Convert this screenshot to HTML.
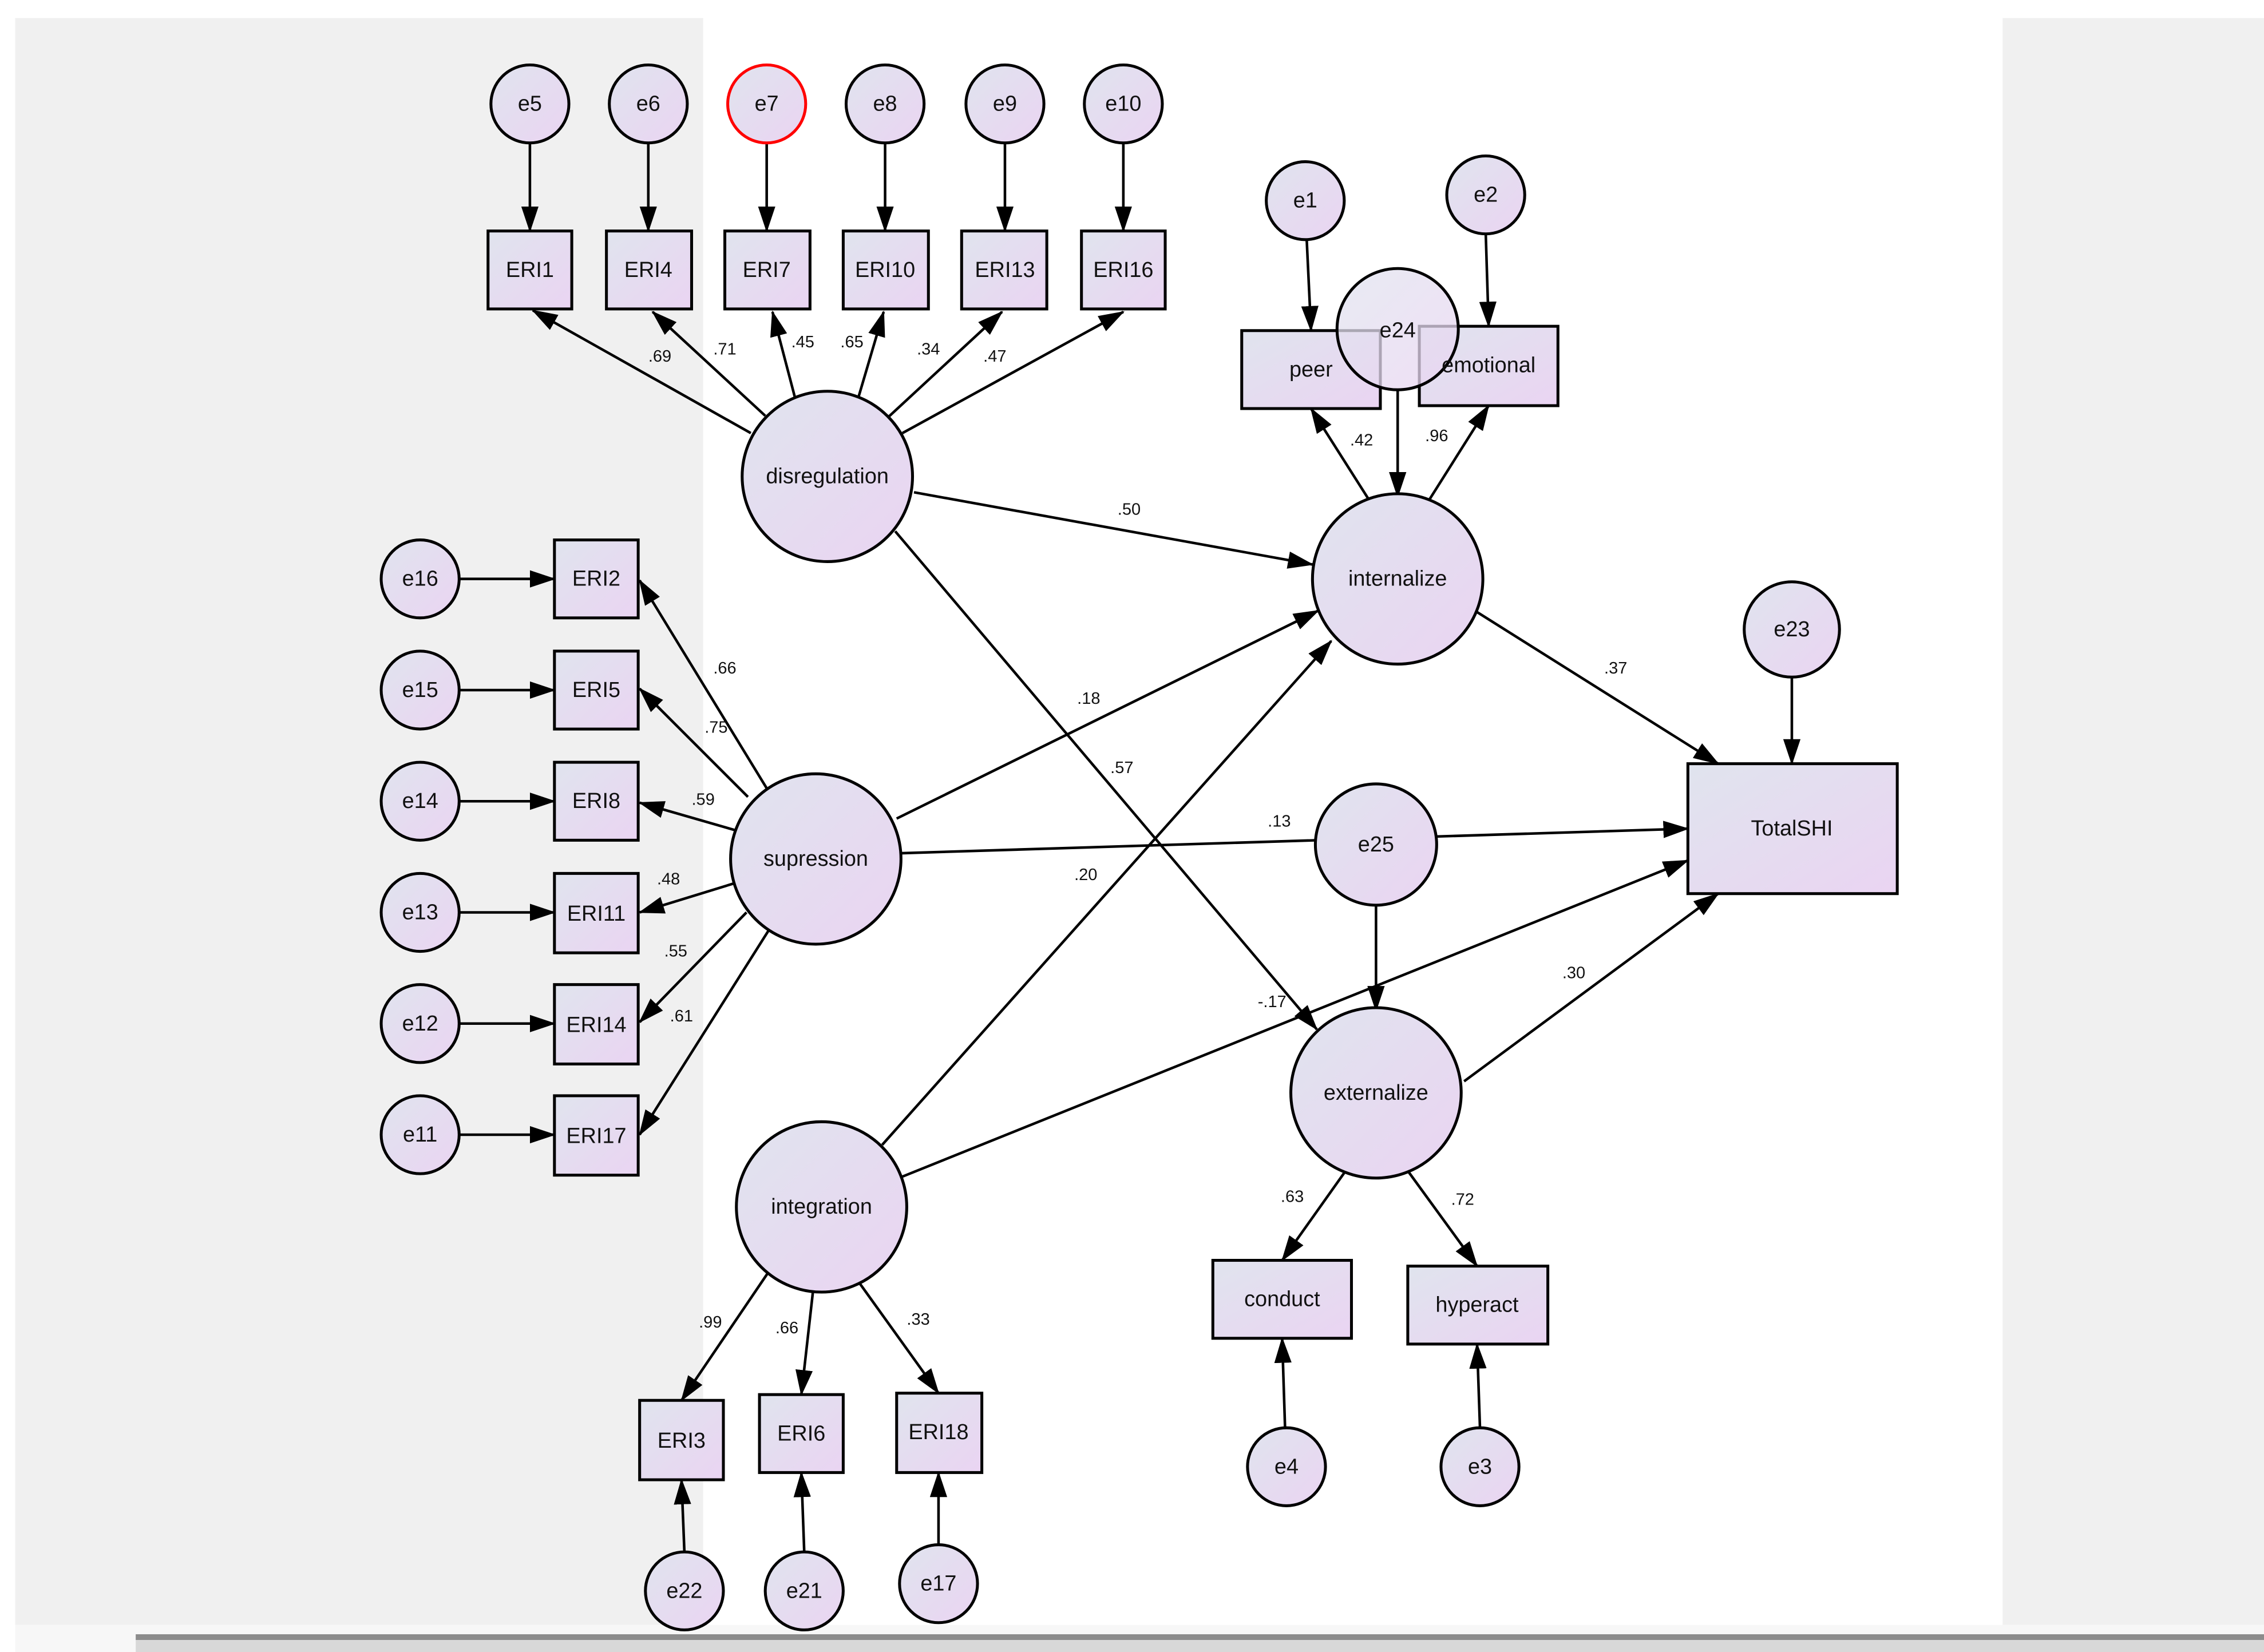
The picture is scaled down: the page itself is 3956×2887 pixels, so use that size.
<!DOCTYPE html>
<html><head><meta charset="utf-8"><style>
html,body{margin:0;padding:0;background:#fff;}
svg{display:block;}
text{font-family:"Liberation Sans",sans-serif;fill:#111;}
.n{font-size:15px;text-anchor:middle;dominant-baseline:central;}
.l{font-size:11.5px;text-anchor:middle;dominant-baseline:central;}
</style></head><body>
<svg width="3956" height="2887" viewBox="0 0 1568 1144.3" preserveAspectRatio="none" xmlns="http://www.w3.org/2000/svg">
<defs>
<linearGradient id="g" x1="0" y1="0" x2="1" y2="1">
<stop offset="0" stop-color="#e0e4ee"/><stop offset="1" stop-color="#ead4f2"/>
</linearGradient>
<marker id="a" markerUnits="userSpaceOnUse" markerWidth="18" markerHeight="12" refX="17" refY="6" orient="auto">
<path d="M0,0 L18,6 L0,12 z" fill="#000"/>
</marker>
</defs>
<rect x="0" y="0" width="1568" height="1144.3" fill="#fff"/>
<rect x="10.5" y="12.5" width="476.5" height="1113" fill="#f0f0f0"/>
<rect x="1387" y="12.5" width="181" height="1113" fill="#f0f0f0"/>
<rect x="10.5" y="1125.5" width="1557.5" height="18.8" fill="#f7f7f7"/>
<rect x="94" y="1132" width="1474" height="4" fill="#8c8c8c"/>
<rect x="94" y="1136" width="1474" height="8.3" fill="#d8d8d8"/>

<g stroke="#000" stroke-width="1.8" fill="none" marker-end="url(#a)">
<!-- e to top boxes -->
<line x1="367" y1="99" x2="367" y2="160"/>
<line x1="449" y1="99" x2="449" y2="160"/>
<line x1="531" y1="99" x2="531" y2="160"/>
<line x1="613" y1="99" x2="613" y2="160"/>
<line x1="696" y1="99" x2="696" y2="160"/>
<line x1="778" y1="99" x2="778" y2="160"/>
<!-- disregulation loadings -->
<line x1="520" y1="300" x2="369" y2="215"/>
<line x1="530" y1="288" x2="452" y2="216"/>
<line x1="551" y1="277" x2="535" y2="216"/>
<line x1="594" y1="277" x2="612" y2="216"/>
<line x1="614" y1="290" x2="694" y2="216"/>
<line x1="625" y1="300" x2="778" y2="216"/>
<line x1="633" y1="341" x2="909" y2="391"/>
<line x1="620" y1="368" x2="912" y2="713"/>
<!-- supression -->
<line x1="531" y1="546" x2="443" y2="402"/>
<line x1="518" y1="552" x2="443" y2="477"/>
<line x1="509" y1="575" x2="443" y2="556"/>
<line x1="508" y1="612" x2="443" y2="632"/>
<line x1="517" y1="632" x2="443" y2="708"/>
<line x1="532" y1="645" x2="443" y2="786"/>
<line x1="621" y1="567" x2="913" y2="423"/>
<line x1="624" y1="591" x2="1169" y2="574"/>
<!-- integration -->
<line x1="611" y1="793" x2="922" y2="444"/>
<line x1="625" y1="815" x2="1169" y2="596"/>
<line x1="533" y1="880" x2="472" y2="970"/>
<line x1="563" y1="895" x2="555" y2="966"/>
<line x1="594" y1="887" x2="650" y2="965"/>
<!-- right -->
<line x1="1023" y1="424" x2="1190" y2="529"/>
<line x1="1014" y1="749" x2="1190" y2="619"/>
<line x1="932" y1="811" x2="888" y2="873"/>
<line x1="975" y1="811" x2="1023" y2="877"/>
<line x1="890" y1="989" x2="888" y2="927"/>
<line x1="1025" y1="989" x2="1023" y2="931"/>
<line x1="953" y1="627" x2="953" y2="700"/>
<line x1="968" y1="270" x2="968" y2="344"/>
<line x1="905" y1="166" x2="908" y2="229"/>
<line x1="1029" y1="162" x2="1031" y2="226"/>
<line x1="948" y1="346" x2="908" y2="283"/>
<line x1="990" y1="346" x2="1031" y2="281"/>
<line x1="1241" y1="469" x2="1241" y2="529"/>
<!-- left e -->
<line x1="318" y1="401" x2="384" y2="401"/>
<line x1="318" y1="478" x2="384" y2="478"/>
<line x1="318" y1="555" x2="384" y2="555"/>
<line x1="318" y1="632" x2="384" y2="632"/>
<line x1="318" y1="709" x2="384" y2="709"/>
<line x1="318" y1="786" x2="384" y2="786"/>
<!-- bottom e -->
<line x1="474" y1="1075" x2="472" y2="1025"/>
<line x1="557" y1="1075" x2="555" y2="1020"/>
<line x1="650" y1="1070" x2="650" y2="1020"/>
</g>

<g stroke="#000" stroke-width="2" fill="url(#g)">
<!-- top -->
<circle cx="367" cy="72" r="27"/><circle cx="449" cy="72" r="27"/>
<circle cx="531" cy="72" r="27" stroke="#f00"/>
<circle cx="613" cy="72" r="27"/><circle cx="696" cy="72" r="27"/><circle cx="778" cy="72" r="27"/>
<rect x="338" y="160" width="58" height="54"/><rect x="420" y="160" width="59" height="54"/>
<rect x="502" y="160" width="59" height="54"/><rect x="584" y="160" width="59" height="54"/>
<rect x="666" y="160" width="59" height="54"/><rect x="749" y="160" width="58" height="54"/>
<circle cx="573" cy="330" r="59"/>
<circle cx="904" cy="139" r="27"/><circle cx="1029" cy="135" r="27"/>
<rect x="860" y="229" width="96" height="54"/><rect x="983" y="226" width="96" height="55"/>
<circle cx="968" cy="228" r="42" fill-opacity="0.75"/>
<circle cx="968" cy="401" r="59"/>
<circle cx="1241" cy="436" r="33"/>
<rect x="1169" y="529" width="145" height="90"/>
<circle cx="953" cy="585" r="42"/>
<circle cx="953" cy="757" r="59"/>
<rect x="840" y="873" width="96" height="54"/><rect x="975" y="877" width="97" height="54"/>
<circle cx="891" cy="1016" r="27"/><circle cx="1025" cy="1016" r="27"/>
<circle cx="565" cy="595" r="59"/><circle cx="569" cy="836" r="59"/>
<circle cx="291" cy="401" r="27"/><circle cx="291" cy="478" r="27"/><circle cx="291" cy="555" r="27"/>
<circle cx="291" cy="632" r="27"/><circle cx="291" cy="709" r="27"/><circle cx="291" cy="786" r="27"/>
<rect x="384" y="374" width="58" height="54"/><rect x="384" y="451" width="58" height="54"/>
<rect x="384" y="528" width="58" height="54"/><rect x="384" y="605" width="58" height="55"/>
<rect x="384" y="682" width="58" height="55"/><rect x="384" y="759" width="58" height="55"/>
<rect x="443" y="970" width="58" height="55"/><rect x="526" y="966" width="58" height="54"/>
<rect x="621" y="965" width="59" height="55"/>
<circle cx="474" cy="1102" r="27"/><circle cx="557" cy="1102" r="27"/><circle cx="650" cy="1097" r="27"/>
</g>

<g class="n">
<text class="n" x="367" y="72">e5</text><text class="n" x="449" y="72">e6</text><text class="n" x="531" y="72">e7</text>
<text class="n" x="613" y="72">e8</text><text class="n" x="696" y="72">e9</text><text class="n" x="778" y="72">e10</text>
<text class="n" x="367" y="187">ERI1</text><text class="n" x="449" y="187">ERI4</text><text class="n" x="531" y="187">ERI7</text>
<text class="n" x="613" y="187">ERI10</text><text class="n" x="696" y="187">ERI13</text><text class="n" x="778" y="187">ERI16</text>
<text class="n" x="573" y="330">disregulation</text>
<text class="n" x="904" y="139">e1</text><text class="n" x="1029" y="135">e2</text>
<text class="n" x="908" y="256">peer</text><text class="n" x="1031" y="253">emotional</text>
<text class="n" x="968" y="229">e24</text>
<text class="n" x="968" y="401">internalize</text>
<text class="n" x="1241" y="436">e23</text><text class="n" x="1241" y="574">TotalSHI</text>
<text class="n" x="953" y="585">e25</text><text class="n" x="953" y="757">externalize</text>
<text class="n" x="888" y="900">conduct</text><text class="n" x="1023" y="904">hyperact</text>
<text class="n" x="891" y="1016">e4</text><text class="n" x="1025" y="1016">e3</text>
<text class="n" x="565" y="595">supression</text><text class="n" x="569" y="836">integration</text>
<text class="n" x="291" y="401">e16</text><text class="n" x="291" y="478">e15</text><text class="n" x="291" y="555">e14</text>
<text class="n" x="291" y="632">e13</text><text class="n" x="291" y="709">e12</text><text class="n" x="291" y="786">e11</text>
<text class="n" x="413" y="401">ERI2</text><text class="n" x="413" y="478">ERI5</text><text class="n" x="413" y="555">ERI8</text>
<text class="n" x="413" y="633">ERI11</text><text class="n" x="413" y="710">ERI14</text><text class="n" x="413" y="787">ERI17</text>
<text class="n" x="472" y="998">ERI3</text><text class="n" x="555" y="993">ERI6</text><text class="n" x="650" y="992">ERI18</text>
<text class="n" x="474" y="1102">e22</text><text class="n" x="557" y="1102">e21</text><text class="n" x="650" y="1097">e17</text>
</g>
<g>
<text class="l" x="457" y="247">.69</text><text class="l" x="502" y="242">.71</text><text class="l" x="556" y="237">.45</text>
<text class="l" x="590" y="237">.65</text><text class="l" x="643" y="242">.34</text><text class="l" x="689" y="247">.47</text>
<text class="l" x="782" y="353">.50</text><text class="l" x="502" y="463">.66</text><text class="l" x="496" y="504">.75</text>
<text class="l" x="487" y="554">.59</text><text class="l" x="463" y="609">.48</text><text class="l" x="468" y="659">.55</text>
<text class="l" x="472" y="704">.61</text><text class="l" x="754" y="484">.18</text><text class="l" x="777" y="532">.57</text>
<text class="l" x="886" y="569">.13</text><text class="l" x="752" y="606">.20</text><text class="l" x="881" y="694">-.17</text>
<text class="l" x="1119" y="463">.37</text><text class="l" x="1090" y="674">.30</text><text class="l" x="943" y="305">.42</text>
<text class="l" x="995" y="302">.96</text><text class="l" x="895" y="829">.63</text><text class="l" x="1013" y="831">.72</text>
<text class="l" x="492" y="916">.99</text><text class="l" x="545" y="920">.66</text><text class="l" x="636" y="914">.33</text>
</g>
</svg>
</body></html>
